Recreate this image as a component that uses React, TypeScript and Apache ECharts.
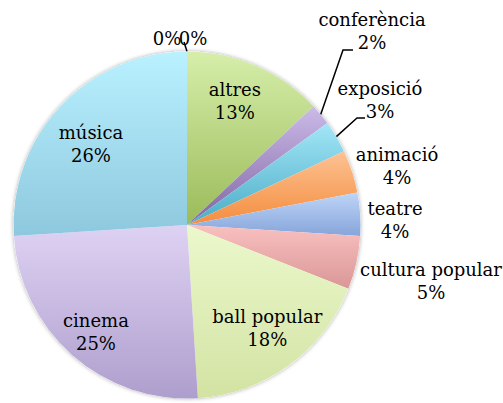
import { useEffect, useRef } from 'react';
import * as echarts from 'echarts';

// ---- data ----
const categories = ['altres', 'conferència', 'exposició', 'animació', 'teatre', 'cultura popular', 'ball popular', 'cinema', 'música', '', ''];
const values = [13, 2, 3, 4, 4, 5, 18, 25, 26, 0, 0];
const insideLabelled = ['altres', 'ball popular', 'cinema', 'música'];

// ---- styles ----
const topColors = ['#d6eeaa', '#cbbbe8', '#a3e6f7', '#fdc294', '#bfd5f8', '#f9c0c0', '#ebf8cc', '#ded2f3', '#b9f1ff', '#cccccc', '#cccccc'];
const bottomColors = ['#9bbb59', '#8064a2', '#4bacc6', '#f48d3e', '#86a5da', '#d99796', '#d3e3a3', '#ae9ecd', '#8ec8de', '#999999', '#999999'];

// ---- layout ----
const CX = 187;
const CY = 225;
const R = 173.5;
const FONT = 'DejaVu Serif';
// centre of each outside label block (by data index)
const outsideLabelPos: ([number, number] | null)[] = [null, [372, 31], [380, 100], [397, 166], [395, 220], [431, 281], null, null, null, [167, 38], [193, 38]];
// leader line elbow / end offsets relative to label centre
const leaderOffsets: Record<number, [number, number][]> = {
  1: [[-29, 19], [-19, 19]],
  2: [[-23, 18], [-15, 18]],
  10: [[-9, 4], [-9, 4]],
};
const insideOffsets: Record<string, [number, number]> = {
  'altres': [-5, -2],
  'ball popular': [2, -5],
  'cinema': [-3, 7],
  'música': [1, 10],
};

const richText = {
  t: { fontFamily: FONT, fontSize: 18, lineHeight: 23, color: '#000', align: 'center' as const },
};

export default function App() {
  const ref = useRef<HTMLDivElement>(null);
  useEffect(() => {
    if (!ref.current) return;
    const chart = echarts.init(ref.current, undefined, { renderer: 'svg' });
    const mainData = categories.map((name, i) => ({
      name,
      value: values[i],
      itemStyle: {
        color: new echarts.graphic.LinearGradient(0, 0, 0, 1, [
          { offset: 0, color: topColors[i] },
          { offset: 1, color: bottomColors[i] },
        ]),
      },
      label: { show: outsideLabelPos[i] != null },
      labelLine: { show: leaderOffsets[i] != null },
    }));
    const ghostData = categories.map((name, i) => ({
      name,
      value: values[i],
      label: {
        show: insideLabelled.includes(name),
        offset: insideOffsets[name] || [0, 0],
      },
    }));
    const fmt = (p: any) => {
      const pct = `${Math.round(p.percent)}%`;
      return p.name ? `{t|${p.name}}\n{t|${pct}}` : `{t|${pct}}`;
    };
    chart.setOption({
      animation: false,
      backgroundColor: '#ffffff',
      series: [
        {
          type: 'pie',
          center: [CX, CY],
          radius: [0, R],
          silent: true,
          z: 1,
          label: { show: false },
          labelLine: { show: false },
          itemStyle: { color: '#ffffff', shadowBlur: 4, shadowColor: 'rgba(0,0,0,0.35)' },
          data: [{ name: 'base', value: 1 }],
        },
        {
          type: 'pie',
          center: [CX, CY],
          radius: [0, R],
          startAngle: 90,
          clockwise: true,
          avoidLabelOverlap: false,
          silent: true,
          z: 2,
          itemStyle: { borderWidth: 0 },
          label: {
            position: 'outside',
            formatter: fmt,
            rich: richText,
          },
          labelLine: { lineStyle: { color: '#000', width: 1.5 }, length: 10, length2: 10, smooth: false },
          labelLayout: (params: any) => {
            const i = params.dataIndex;
            const pos = outsideLabelPos[i];
            if (!pos) return {};
            const out: any = { x: pos[0], y: pos[1], align: 'center', verticalAlign: 'middle' };
            const lo = leaderOffsets[i];
            if (lo && params.labelLinePoints) {
              const p0 = params.labelLinePoints[0];
              out.labelLinePoints = [p0, [pos[0] + lo[0][0], pos[1] + lo[0][1]], [pos[0] + lo[1][0], pos[1] + lo[1][1]]];
            }
            return out;
          },
          data: mainData,
        },
        {
          type: 'pie',
          center: [CX, CY],
          radius: [0, R * 1.5],
          startAngle: 90,
          clockwise: true,
          silent: true,
          z: 3,
          avoidLabelOverlap: false,
          itemStyle: { color: 'rgba(0,0,0,0)', borderWidth: 0 },
          label: { position: 'inside', formatter: fmt, rich: richText },
          labelLine: { show: false },
          data: ghostData,
        },
      ],
    });
    return () => chart.dispose();
  }, []);
  return <div ref={ref} style={{ position: 'fixed', left: 0, top: 0, width: 503, height: 403 }} />;
}
